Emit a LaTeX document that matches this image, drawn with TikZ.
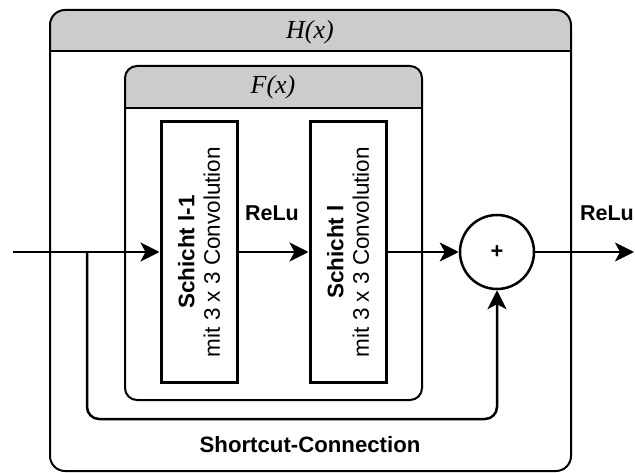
\documentclass[tikz,border=0pt]{standalone}
\usepackage{fontspec}
\setmainfont{Liberation Sans}
\newfontfamily\headfont{Liberation Serif}
\usetikzlibrary{arrows.meta}
\definecolor{headgray}{HTML}{CCCCCC}
\tikzset{
  frame/.style={draw=black, line width=2pt},
  layerbox/.style={draw=black, line width=3pt, rotate=90, minimum width=260pt,
    minimum height=76pt, align=center, inner sep=0pt,
    font=\fontsize{22.5}{25.5}\selectfont},
  sumnode/.style={draw=black, line width=2.5pt, circle, minimum size=74pt, inner sep=0pt,
    font=\fontsize{22}{25}\selectfont\bfseries},
  conn/.style={line width=2.5pt, -{Stealth[length=19pt, width=19pt, inset=5pt]}},
  lbl/.style={font=\fontsize{21.5}{25}\selectfont\bfseries, inner sep=0pt},
  headlbl/.style={font=\headfont\itshape\fontsize{26}{30}\selectfont, inner sep=0pt},
}
\begin{document}
\begin{tikzpicture}[x=1pt, y=-1pt]
  \useasboundingbox (0,0) rectangle (635,473);

  % outer block H(x): grey title band, then the rounded frame
  \fill[headgray] (50,51) [rounded corners=15pt] -- (50,10) -- (571,10) [sharp corners] -- (571,51) -- cycle;
  \draw[frame, rounded corners=15pt] (50,10) rectangle (571,471);
  \draw[frame] (50,51) -- (571,51);
  \node[headlbl] (hx) at (310,32) {H(x)};

  % inner block F(x)
  \fill[headgray] (125,108) [rounded corners=12pt] -- (125,66) -- (422,66) [sharp corners] -- (422,108) -- cycle;
  \draw[frame, rounded corners=12pt] (125,66) rectangle (422,400);
  \draw[frame] (125,108) -- (422,108);
  \node[headlbl] (fx) at (273,87) {F(x)};

  % the two convolution layers
  \node[layerbox] (l1) at (199,252) {{\bfseries Schicht l-1}\\mit 3 x 3 Convolution};
  \node[layerbox] (l2) at (348,252) {{\bfseries Schicht l}\\mit 3 x 3 Convolution};

  % addition node
  \node[sumnode] (sum) at (497,252) {+};

  % free ends and branch point
  \coordinate (in) at (13,252);
  \coordinate (branch) at (87,252);
  \coordinate (out) at (634,252);

  % main path
  \draw[conn] (in) -- (l1.north);
  \draw[conn] (l1.south) -- (l2.north);
  \draw[conn] (l2.south) -- (sum.west);
  \draw[conn] (sum.east) -- (out);

  % shortcut connection
  \draw[conn, rounded corners=12pt] (branch) -- (87,419) -- (497,419) -- (sum.south);

  % labels
  \node[lbl] (relu1) at (272,213) {ReLu};
  \node[lbl] (relu2) at (607,213) {ReLu};
  \node[lbl, font=\fontsize{22.2}{25}\selectfont\bfseries] (sc) at (310,445) {Shortcut-Connection};
\end{tikzpicture}
\end{document}
